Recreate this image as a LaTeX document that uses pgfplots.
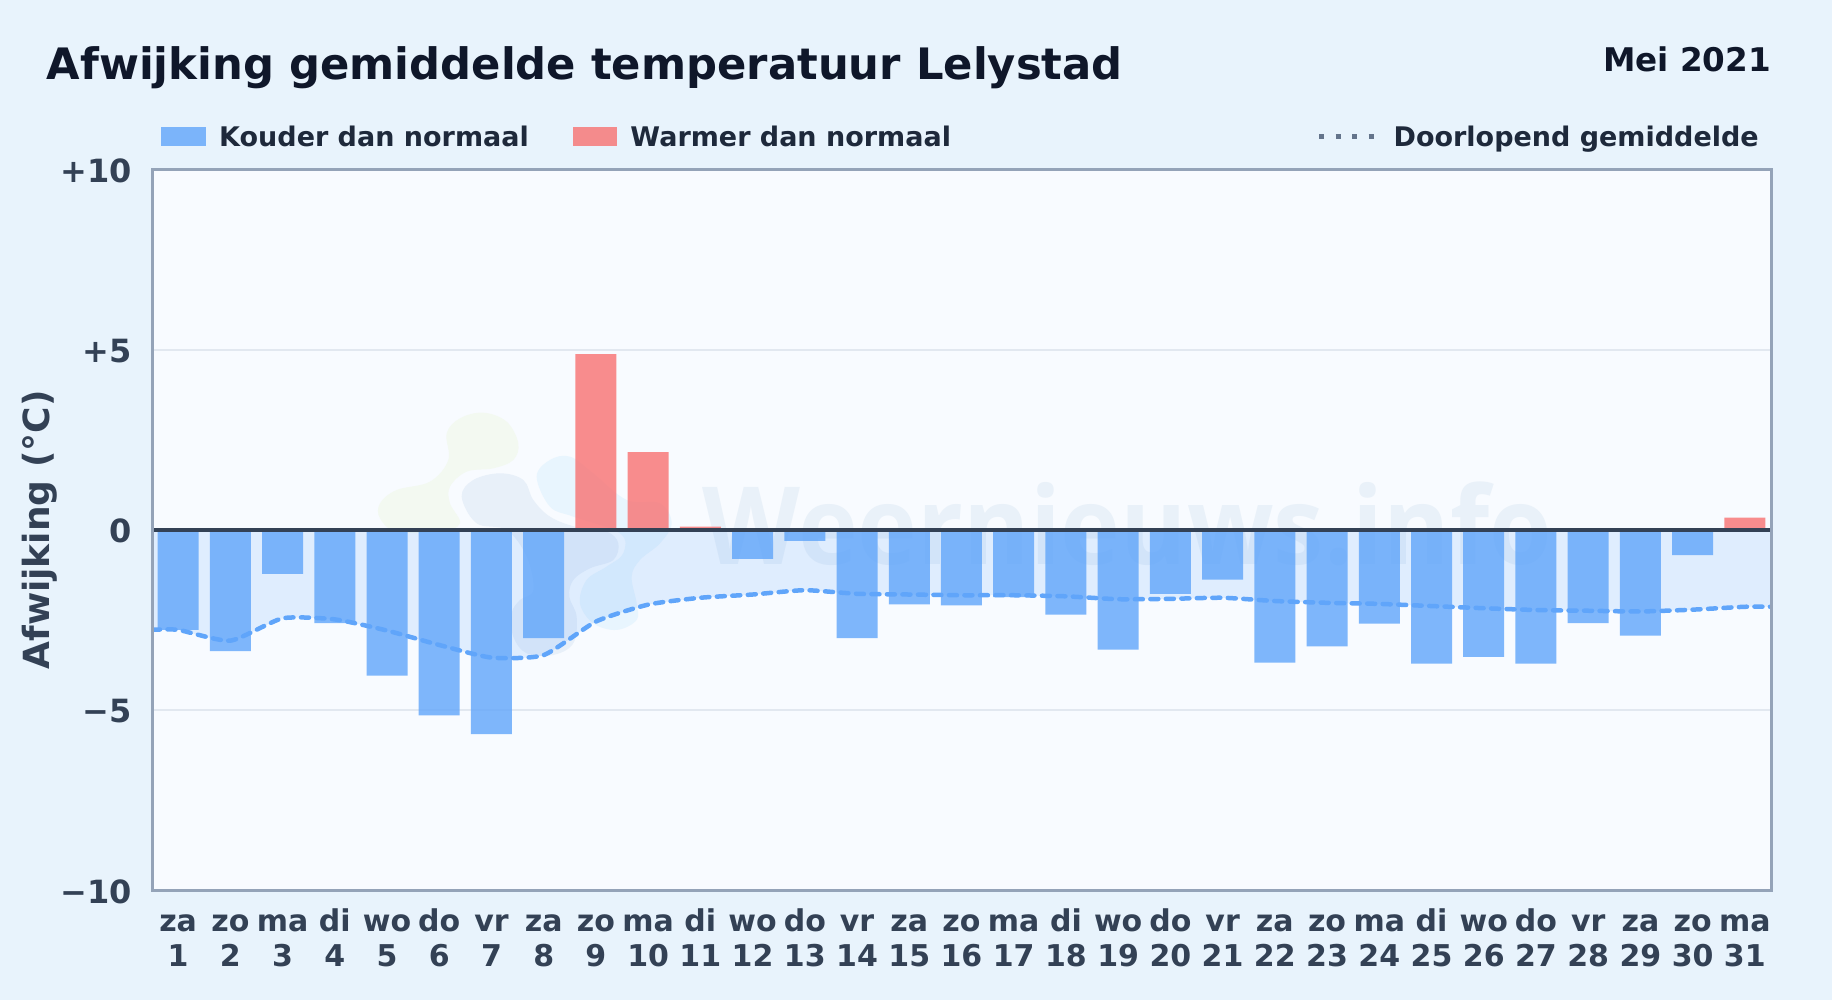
\documentclass[border=0pt]{standalone}
\usepackage{fontspec}
\usepackage{pgfplots}
\pgfplotsset{compat=1.18}
\setmainfont{DejaVu Sans}
\newfontfamily\wmfont{Open Sans}[FakeStretch=0.937]
\definecolor{pagebg}{HTML}{E8F3FC}
\definecolor{plotbg}{HTML}{F8FBFF}
\definecolor{titlec}{HTML}{0F172A}
\definecolor{legc}{HTML}{1E293B}
\definecolor{tickc}{HTML}{334155}
\definecolor{framec}{HTML}{94A3B8}
\definecolor{gridc}{HTML}{E2E8F0}
\definecolor{bluec}{HTML}{60A5FA}
\definecolor{redc}{HTML}{F87171}
\definecolor{dotc}{HTML}{64748B}
\newcommand\dl[2]{\rule{0pt}{24pt}#1\\#2}
\begin{document}
\begin{tikzpicture}
\path[use as bounding box] (0pt,0pt) rectangle (1832pt,1000pt);
\fill[pagebg] (0pt,0pt) rectangle (1832pt,1000pt);
\fill[plotbg] (152pt,109.5pt) rectangle (1771pt,830.5pt);
% watermark
\begin{scope}[shift={(360pt,610pt)},x=0.3333pt,y=-0.3333pt]
\fill[color={rgb,255:red,243;green,249;blue,241}] plot[smooth cycle,tension=.6] coordinates {(260,130)(300,85)(370,68)(440,95)(475,160)(460,210)(400,235)(320,245)(270,290)(270,340)(300,400)(240,425)(110,425)(60,385)(60,340)(110,300)(210,275)(265,210)};
\fill[color={rgb,255:red,232;green,240;blue,249}] plot[smooth cycle,tension=.6] coordinates {(305,320)(340,270)(420,250)(490,270)(520,330)(570,380)(645,410)(740,425)(775,460)(760,510)(690,535)(640,570)(628,620)(650,680)(640,760)(580,795)(500,790)(460,740)(455,670)(480,630)(520,600)(500,500)(440,420)(350,400)};
\fill[color={rgb,255:red,232;green,245;blue,254}] plot[smooth cycle,tension=.6] coordinates {(530,260)(570,210)(630,200)(700,250)(800,330)(900,340)(935,400)(900,460)(840,510)(815,560)(830,640)(830,690)(770,720)(700,700)(660,640)(680,570)(740,530)(790,490)(780,430)(640,380)(570,350)};
\end{scope}
\node[anchor=base west,inner sep=0pt,text={rgb,255:red,233;green,241;blue,249}] at (702pt,435pt) {\fontsize{108}{108}\selectfont\wmfont\bfseries Weernieuws.info};
\begin{axis}[
  at={(152pt,109.5pt)},anchor=south west,
  scale only axis,width=1619pt,height=721pt,
  xmin=0.5,xmax=31.5,ymin=-10,ymax=10,
  axis line style={draw=none},
  major tick length=0pt,
  ytick={-10,-5,0,5,10},
  yticklabels={−10,−5,0,+5,+10},
  xtick={1,...,31},
  xticklabels={{\dl{za}{1}},{\dl{zo}{2}},{\dl{ma}{3}},{\dl{di}{4}},{\dl{wo}{5}},{\dl{do}{6}},{\dl{vr}{7}},{\dl{za}{8}},{\dl{zo}{9}},{\dl{ma}{10}},{\dl{di}{11}},{\dl{wo}{12}},{\dl{do}{13}},{\dl{vr}{14}},{\dl{za}{15}},{\dl{zo}{16}},{\dl{ma}{17}},{\dl{di}{18}},{\dl{wo}{19}},{\dl{do}{20}},{\dl{vr}{21}},{\dl{za}{22}},{\dl{zo}{23}},{\dl{ma}{24}},{\dl{di}{25}},{\dl{wo}{26}},{\dl{do}{27}},{\dl{vr}{28}},{\dl{za}{29}},{\dl{zo}{30}},{\dl{ma}{31}}},
  xticklabel style={font=\fontsize{30}{34.5}\selectfont\bfseries,text=tickc,align=center,inner sep=0pt,anchor=north,yshift=-17pt},
  yticklabel style={font=\fontsize{32}{32}\selectfont\bfseries,text=tickc,inner sep=0pt,anchor=east,xshift=-20pt,yshift=-1pt},
  ymajorgrids,
  grid style={draw=gridc,line width=2pt},
  ylabel={Afwijking (°C)},
  ylabel style={font=\fontsize{36}{36}\selectfont\bfseries,text=tickc,at={(axis description cs:-0.0695,0.5)},anchor=center,inner sep=0pt},
  legend columns=3,
  legend style={at={(axis description cs:0.00556,1.0451)},anchor=west,draw=none,fill=none,
    inner sep=0pt,font=\fontsize{27}{27}\selectfont\bfseries,text=legc,
    nodes={inner sep=0pt},
    /tikz/column 1/.style={column sep=13pt},
    /tikz/column 2/.style={column sep=44.6pt},
    /tikz/column 3/.style={column sep=13pt},
    /tikz/column 4/.style={column sep=365.6pt},
    /tikz/column 5/.style={column sep=16pt}},
]
\addplot[forget plot,smooth,tension=.35,draw=none,fill=bluec,fill opacity=.16] coordinates {
(0.5,-2.77)(1,-2.77)(2,-3.07)(3,-2.45)(4,-2.48)(5,-2.79)(6,-3.19)(7,-3.54)(8,-3.47)(9,-2.54)(10,-2.07)(11,-1.88)(12,-1.79)(13,-1.67)(14,-1.77)(15,-1.79)(16,-1.81)(17,-1.81)(18,-1.84)(19,-1.92)(20,-1.91)(21,-1.88)(22,-1.97)(23,-2.02)(24,-2.05)(25,-2.11)(26,-2.17)(27,-2.22)(28,-2.24)(29,-2.26)(30,-2.21)(31,-2.13)(31.5,-2.13)} \closedcycle;
\addplot[ybar,bar width=41pt,bar shift=0pt,draw=none,fill=bluec,fill opacity=.8,
  legend image code/.code={\fill[bluec,fill opacity=.8] (0pt,-9.5pt) rectangle (45pt,9.5pt);}] coordinates {
(1,-2.77)(2,-3.36)(3,-1.22)(4,-2.58)(5,-4.04)(6,-5.14)(7,-5.66)(8,-3.00)(12,-0.80)(13,-0.30)(14,-3.00)(15,-2.06)(16,-2.09)(17,-1.86)(18,-2.35)(19,-3.32)(20,-1.77)(21,-1.38)(22,-3.68)(23,-3.23)(24,-2.60)(25,-3.71)(26,-3.52)(27,-3.71)(28,-2.58)(29,-2.93)(30,-0.70)};
\addlegendentry{Kouder dan normaal}
\addplot[ybar,bar width=41pt,bar shift=0pt,draw=none,fill=redc,fill opacity=.8,
  legend image code/.code={\fill[redc,fill opacity=.8] (0pt,-9.5pt) rectangle (44pt,9.5pt);}] coordinates {
(9,4.88)(10,2.16)(11,0.09)(31,0.34)};
\addlegendentry{Warmer dan normaal}
\addplot[smooth,tension=.35,draw=bluec,line width=4.5pt,line cap=round,dash pattern=on 8pt off 7.5pt,
  legend image code/.code={\draw[dotc,line width=5pt,line cap=butt,dash pattern=on 5pt off 11.5pt] (0pt,0pt)--(56pt,0pt);}] coordinates {
(0.5,-2.77)(1,-2.77)(2,-3.07)(3,-2.45)(4,-2.48)(5,-2.79)(6,-3.19)(7,-3.54)(8,-3.47)(9,-2.54)(10,-2.07)(11,-1.88)(12,-1.79)(13,-1.67)(14,-1.77)(15,-1.79)(16,-1.81)(17,-1.81)(18,-1.84)(19,-1.92)(20,-1.91)(21,-1.88)(22,-1.97)(23,-2.02)(24,-2.05)(25,-2.11)(26,-2.17)(27,-2.22)(28,-2.24)(29,-2.26)(30,-2.21)(31,-2.13)(31.5,-2.13)};
\addlegendentry{Doorlopend gemiddelde}
\addplot[forget plot,draw=tickc,line width=3.8pt] coordinates {(0.5,0)(31.5,0)};
\end{axis}
\draw[framec,line width=3pt] (152pt,109.5pt) rectangle (1771pt,830.5pt);
\node[anchor=base west,inner sep=0pt,text=titlec] at (46.5pt,920pt) {\fontsize{43.3}{43.3}\selectfont\bfseries Afwijking gemiddelde temperatuur Lelystad};
\node[anchor=base east,inner sep=0pt,text=titlec] at (1771pt,928.5pt) {\fontsize{32.6}{32.6}\selectfont\bfseries Mei 2021};
\end{tikzpicture}
\end{document}
